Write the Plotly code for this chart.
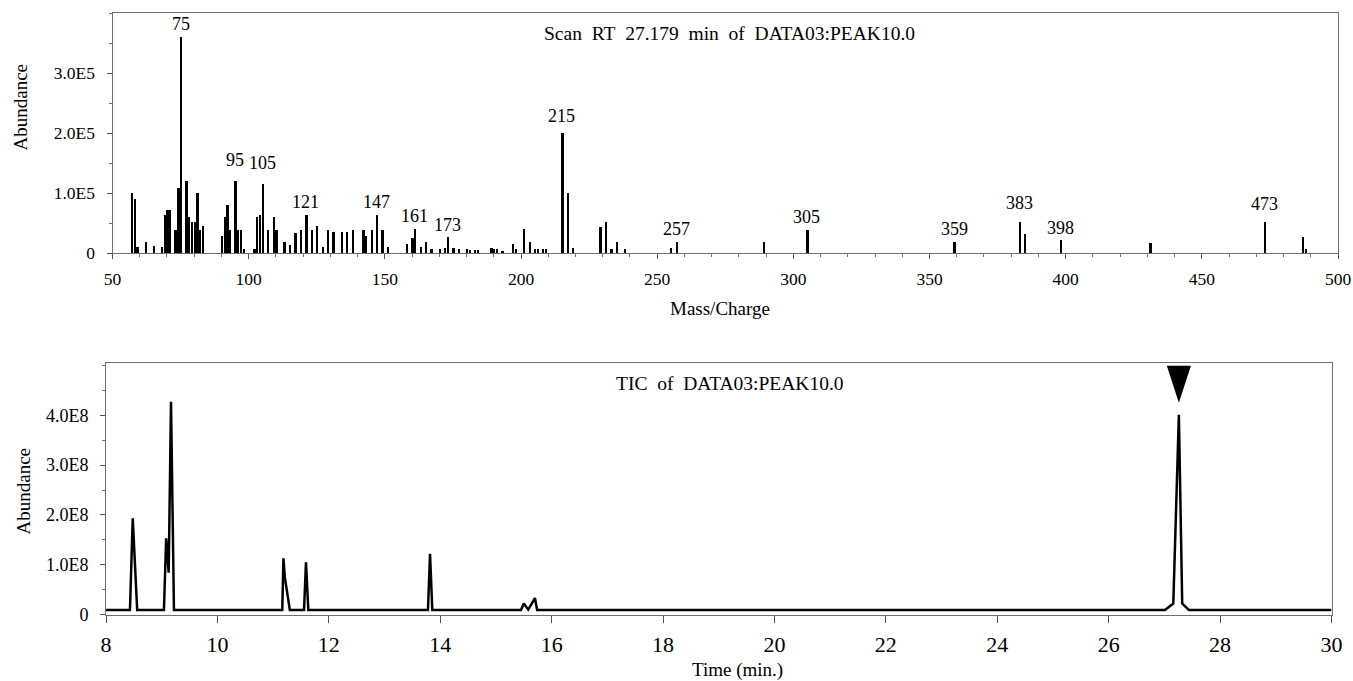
import plotly.graph_objects as go

# ---------------- data ----------------
# Mass spectrum of the scan at RT 27.179 min (abundance in units of 1E5)
ms_mz = [57, 58, 59, 62, 65, 68, 69, 70, 71, 73, 74, 75, 77, 78, 79, 80, 81, 82, 83,
         90, 91, 92, 93, 95, 96, 97, 98, 102, 103, 104, 105, 107, 109, 110,
         113, 115, 117, 119, 121, 123, 125, 127, 129, 131, 134, 136, 138,
         142, 143, 145, 147, 149, 151, 158, 160, 161, 163, 165, 167, 170, 172, 173,
         175, 177, 180, 181, 183, 184, 189, 190, 191, 193, 197, 198, 201, 203,
         205, 206, 208, 209, 215, 217, 219, 229, 231, 233, 235, 238, 255, 257,
         289, 305, 359, 383, 385, 398, 431, 473, 487, 488]
ms_abund_e5 = [1.00, 0.90, 0.10, 0.19, 0.11, 0.10, 0.64, 0.71, 0.71, 0.39, 1.09, 3.60, 1.20, 0.60, 0.51, 0.51, 1.00, 0.39, 0.45,
               0.29, 0.60, 0.80, 0.39, 1.20, 0.39, 0.39, 0.06, 0.06, 0.60, 0.64, 1.15, 0.39, 0.60, 0.39,
               0.18, 0.14, 0.34, 0.39, 0.64, 0.39, 0.45, 0.10, 0.39, 0.35, 0.35, 0.35, 0.39,
               0.39, 0.29, 0.39, 0.64, 0.39, 0.10, 0.15, 0.25, 0.40, 0.10, 0.18, 0.06, 0.06, 0.09, 0.26,
               0.09, 0.06, 0.06, 0.05, 0.05, 0.05, 0.08, 0.06, 0.06, 0.04, 0.15, 0.06, 0.40, 0.19,
               0.06, 0.06, 0.06, 0.06, 2.00, 1.00, 0.09, 0.44, 0.51, 0.06, 0.19, 0.06, 0.09, 0.19,
               0.19, 0.38, 0.19, 0.52, 0.31, 0.21, 0.16, 0.51, 0.26, 0.07]
ms_abund = [v * 1e5 for v in ms_abund_e5]
ms_labelled = [75, 95, 105, 121, 147, 161, 173, 215, 257, 305, 359, 383, 398, 473]

# Total ion chromatogram (abundance in units of 1E8)
tic_time = [8.0, 8.43, 8.48, 8.56, 9.04, 9.08, 9.125, 9.167, 9.22,
            11.165, 11.185, 11.21, 11.30, 11.555, 11.59, 11.632,
            13.78, 13.817, 13.858, 15.45, 15.50, 15.58, 15.70, 15.74,
            27.01, 27.16, 27.26, 27.32, 27.44, 30.0]
tic_abund_e8 = [0.09, 0.09, 1.93, 0.09, 0.09, 1.53, 0.84, 4.27, 0.09,
                0.09, 1.13, 0.75, 0.09, 0.09, 1.05, 0.09,
                0.09, 1.22, 0.09, 0.09, 0.22, 0.10, 0.33, 0.09,
                0.09, 0.22, 4.01, 0.22, 0.09, 0.09]
tic_abund = [v * 1e8 for v in tic_abund_e8]

scan_rt = "27.179"
ms_x_ticks = [50, 100, 150, 200, 250, 300, 350, 400, 450, 500]
ms_y_tickvals = [0, 1e5, 2e5, 3e5]
ms_y_ticktext = ["0", "1.0E5", "2.0E5", "3.0E5"]
tic_x_ticks = [8, 10, 12, 14, 16, 18, 20, 22, 24, 26, 28, 30]
tic_y_tickvals = [0, 1e8, 2e8, 3e8, 4e8]
tic_y_ticktext = ["0", "1.0E8", "2.0E8", "3.0E8", "4.0E8"]

# ---------------- style ----------------
FONT = "Liberation Serif, Times New Roman, serif"
W, H = 1353, 681
NB = "\u00a0"
label_pad = {95: 9, 105: 9, 215: 5, 383: 7, 473: 7}

fig = go.Figure()

fig.add_trace(go.Bar(x=ms_mz, y=ms_abund, width=0.85,
                     marker=dict(color="black", line=dict(width=0)),
                     xaxis="x", yaxis="y", showlegend=False, hoverinfo="x+y"))

fig.add_trace(go.Scatter(x=tic_time, y=tic_abund, mode="lines",
                         line=dict(color="black", width=2.5),
                         xaxis="x2", yaxis="y2", showlegend=False))

# arrow marking the scan position (apex of the selected TIC peak)
late = [i for i, t in enumerate(tic_time) if t > 20]
i_apex = max(late, key=lambda i: tic_abund[i])
fig.add_trace(go.Scatter(x=[tic_time[i_apex]], y=[tic_abund[i_apex]], mode="markers",
                         marker=dict(symbol="arrow", angle=180, size=39, standoff=12,
                                     color="black", line=dict(width=0)),
                         cliponaxis=False, xaxis="x2", yaxis="y2", showlegend=False))

annotations = []
for m in ms_labelled:
    h = ms_abund[ms_mz.index(m)]
    annotations.append(dict(x=m, y=h, xref="x", yref="y", text=str(m), showarrow=False,
                            yanchor="bottom", xanchor="center", yshift=label_pad.get(m, 1),
                            font=dict(family=FONT, size=18, color="black")))


def paper_text(px, py, text, size, angle=0):
    return dict(x=px / W, y=1 - py / H, xref="paper", yref="paper", showarrow=False,
                xanchor="center", yanchor="middle", text=text, textangle=angle,
                font=dict(family=FONT, size=size, color="black"))


sp = NB + NB
annotations += [
    paper_text(729, 33, f"Scan{sp}RT{sp}{scan_rt}{sp}min{sp}of{sp}DATA03:PEAK10.0", 19.5),
    paper_text(730, 383, f"TIC{sp}of{sp}DATA03:PEAK10.0", 19.5),
    paper_text(20, 107.5, "Abundance", 19, -90),
    paper_text(23, 491.5, "Abundance", 19, -90),
    paper_text(720, 308, "Mass/Charge", 19),
    paper_text(737, 670, "Time (min.)", 19),
]

axis_common = dict(showgrid=False, zeroline=False, showline=True, mirror=True,
                   linecolor="#707070", linewidth=1, ticks="outside",
                   tickcolor="#505050", automargin=False)

fig.update_layout(
    width=W, height=H,
    margin=dict(l=0, r=0, t=0, b=0, pad=0),
    paper_bgcolor="white", plot_bgcolor="white",
    font=dict(family=FONT, color="black"),
    showlegend=False,
    bargap=0,
    annotations=annotations,
    xaxis=dict(domain=[112.5 / W, 1338 / W], anchor="y", range=[50, 500],
               tickmode="array", tickvals=ms_x_ticks, ticklen=5,
               minor=dict(tickmode="linear", tick0=50, dtick=10, ticklen=3,
                          tickcolor="#707070", ticks="outside"),
               tickfont=dict(family=FONT, size=17.5), ticklabelstandoff=5,
               **axis_common),
    yaxis=dict(domain=[1 - 253.3 / H, 1 - 13.3 / H], anchor="x", range=[0, 4.0e5],
               tickmode="array", tickvals=ms_y_tickvals, ticktext=ms_y_ticktext, ticklen=5,
               minor=dict(tickmode="linear", tick0=0, dtick=0.5e5, ticklen=3,
                          tickcolor="#707070", ticks="outside"),
               tickfont=dict(family=FONT, size=17.5), ticklabelstandoff=8,
               **axis_common),
    xaxis2=dict(domain=[106 / W, 1331.5 / W], anchor="y2", range=[8, 30],
                tickmode="array", tickvals=tic_x_ticks, ticklen=7,
                tickfont=dict(family=FONT, size=22), ticklabelstandoff=3,
                **axis_common),
    yaxis2=dict(domain=[1 - 614.5 / H, 1 - 363 / H], anchor="x2", range=[0, 5.05e8],
                tickmode="array", tickvals=tic_y_tickvals, ticktext=tic_y_ticktext, ticklen=5,
                minor=dict(tickmode="linear", tick0=0, dtick=0.5e8, ticklen=3,
                           tickcolor="#707070", ticks="outside"),
                tickfont=dict(family=FONT, size=18), ticklabelstandoff=8,
                **axis_common),
)

fig.write_html("out.html", config={"displayModeBar": False},
               post_script="document.body.style.margin='0';document.body.style.overflow='hidden';")
